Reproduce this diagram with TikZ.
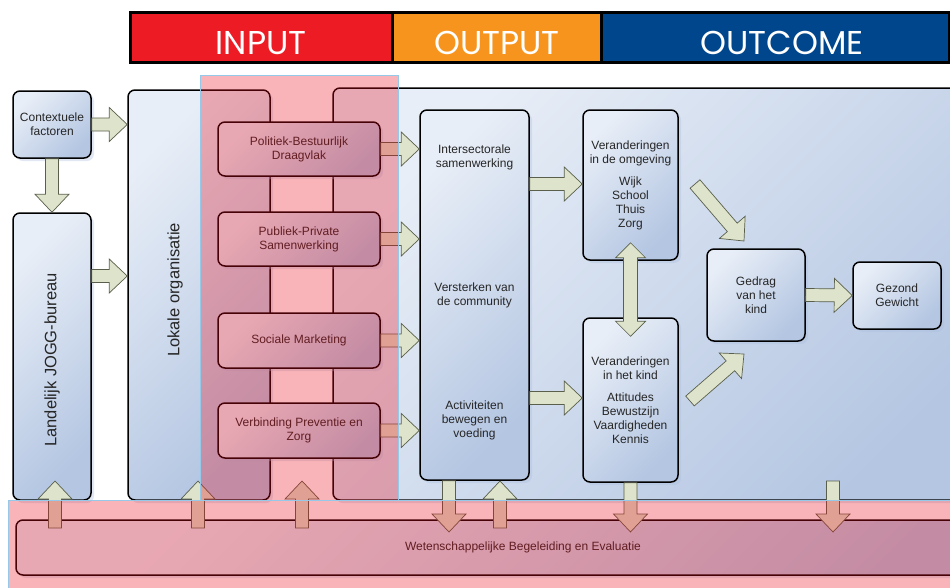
\documentclass[tikz,border=0pt]{standalone}
\usepackage{fontspec}
\setmainfont{Liberation Sans}
\newfontfamily\headfont{Poppins}
\usetikzlibrary{calc,shadows}

\definecolor{inred}{RGB}{237,28,36}
\definecolor{outorange}{RGB}{247,148,29}
\definecolor{outblue}{RGB}{0,70,140}
\definecolor{boxlite}{RGB}{232,238,247}
\definecolor{boxdark}{RGB}{180,198,226}
\definecolor{boxshadow}{RGB}{170,190,222}
\definecolor{arrowfill}{RGB}{222,227,203}
\definecolor{arrowline}{RGB}{90,95,75}
\definecolor{veilred}{RGB}{235,8,22}
\definecolor{veilline}{RGB}{150,200,232}

\newcommand{\fatarrow}[2]{%
  \draw[fatarrow] ($(#1)!6.5pt!90:(#2)$)
    -- ($($(#2)!18pt!(#1)$)!6.5pt!90:(#2)$)
    -- ($($(#2)!18pt!(#1)$)!17pt!90:(#2)$)
    -- (#2)
    -- ($($(#2)!18pt!(#1)$)!17pt!-90:(#2)$)
    -- ($($(#2)!18pt!(#1)$)!6.5pt!-90:(#2)$)
    -- ($(#1)!6.5pt!-90:(#2)$) -- cycle;}
\newcommand{\dblarrow}[2]{%
  \draw[fatarrow] (#1)
    -- ($($(#1)!15pt!(#2)$)!15pt!90:(#2)$)
    -- ($($(#1)!15pt!(#2)$)!7pt!90:(#2)$)
    -- ($($(#2)!15pt!(#1)$)!7pt!90:(#2)$)
    -- ($($(#2)!15pt!(#1)$)!15pt!90:(#2)$)
    -- (#2)
    -- ($($(#2)!15pt!(#1)$)!15pt!-90:(#2)$)
    -- ($($(#2)!15pt!(#1)$)!7pt!-90:(#2)$)
    -- ($($(#1)!15pt!(#2)$)!7pt!-90:(#2)$)
    -- ($($(#1)!15pt!(#2)$)!15pt!-90:(#2)$) -- cycle;}

\begin{document}
\begin{tikzpicture}
[x=1pt, y=-1pt,
 txt/.style={font=\fontsize{12}{14}\selectfont, text=black!85, align=center, inner sep=0pt},
 box/.style={txt, draw=black, line width=1.5pt, rounded corners=7pt,
   top color=boxlite, bottom color=boxdark, shading angle=45,
   drop shadow={shadow xshift=3pt, shadow yshift=-3pt, opacity=.35, fill=boxshadow}},
 bigtxt/.style={txt, rotate=90, font=\fontsize{16.5}{18}\selectfont},
 fatarrow/.style={draw=arrowline, fill=arrowfill, line width=0.7pt, line join=miter},
 redveil/.style={fill=veilred, fill opacity=0.3, draw=veilline, line width=0.6pt},
 headtxt/.style={font=\headfont\fontsize{33}{33}\selectfont, text=white, anchor=base}]
\useasboundingbox (0,0) rectangle (950,587);
\clip (0,0) rectangle (950,587);

\draw[line width=3pt, fill=inred] (130,12) rectangle (392,62);
\draw[line width=3pt, fill=outorange] (392,12) rectangle (601,62);
\draw[line width=3pt, fill=outblue] (601,12) rectangle (949,62);
\node[headtxt] (hin) at (261,54) {INPUT};
\node[headtxt] (hout) at (497,54) {OUTPUT};
\node[headtxt] (hcome) at (782,54) {OUTCOME};

\node[box, minimum width=142pt, minimum height=410pt] (lok) at (199,295) {};
\node[box, minimum width=667pt, minimum height=412pt] (area) at (666.5,294) {};
\node[bigtxt] (loktxt) at (175,290) {Lokale organisatie};

\node[box, minimum width=78pt, minimum height=67pt] (ctx) at (52,124.5) {Contextuele\\factoren};
\node[box, minimum width=78pt, minimum height=287pt] (jogg) at (52,356.5) {};
\node[bigtxt] (joggtxt) at (52,360) {Landelijk JOGG-bureau};

\node[box, minimum width=162pt, minimum height=54pt] (inp1) at (299,149) {Politiek-Bestuurlijk\\Draagvlak};
\node[box, minimum width=162pt, minimum height=54pt] (inp2) at (299,239) {Publiek-Private\\Samenwerking};
\node[box, minimum width=162pt, minimum height=55pt] (inp3) at (299,340.5) {Sociale Marketing};
\node[box, minimum width=162pt, minimum height=55pt] (inp4) at (299,430.5) {Verbinding Preventie en\\Zorg};

\node[box, minimum width=109pt, minimum height=370pt] (mid) at (474.5,295) {};
\node[txt] (mid1) at (474.5,157.5) {Intersectorale\\samenwerking};
\node[txt] (mid2) at (474.5,295) {Versterken van\\de community};
\node[txt] (mid3) at (474.5,420) {Activiteiten\\bewegen en\\voeding};

\node[box, minimum width=95pt, minimum height=150pt] (omg) at (630.5,185) {Veranderingen\\in de omgeving\\[8pt]Wijk\\School\\Thuis\\Zorg};
\node[box, minimum width=95pt, minimum height=164pt] (kind) at (630.5,400) {Veranderingen\\in het kind\\[8pt]Attitudes\\Bewustzijn\\Vaardigheden\\Kennis};
\node[box, minimum width=98pt, minimum height=92pt] (ged) at (756,295) {Gedrag\\van het\\kind};
\node[box, minimum width=88pt, minimum height=67pt] (gez) at (897,295.5) {Gezond\\Gewicht};
\node[box, minimum width=1014pt, minimum height=55pt] (wet) at (523,547.5) {Wetenschappelijke Begeleiding en Evaluatie};

\coordinate (c1) at (lok.west |- ctx.east);
\coordinate (j1) at (jogg.east |- 0,276);
\coordinate (j2) at (lok.west |- 0,276);
\coordinate (e1) at (mid.west |- inp1.east);
\coordinate (e2) at (mid.west |- inp2.east);
\coordinate (e3) at (mid.west |- inp3.east);
\coordinate (e4) at (mid.west |- inp4.east);
\coordinate (m1) at (mid.east |- 0,184);
\coordinate (m2) at (omg.west |- 0,184);
\coordinate (m3) at (mid.east |- 0,398);
\coordinate (m4) at (kind.west |- 0,398);
\coordinate (d1) at ([yshift=18pt]omg.south);
\coordinate (d2) at ([yshift=-19pt]kind.north);
\coordinate (g1) at (695,184);
\coordinate (g2) at (744,241);
\coordinate (g3) at (690,401);
\coordinate (g4) at (744,354);
\coordinate (u1) at (55,528);
\coordinate (v1) at (55,481);
\coordinate (u2) at (198,528);
\coordinate (v2) at (198,481);
\coordinate (u3) at (302,528);
\coordinate (v3) at (302,481);
\coordinate (u4) at (500,528);
\coordinate (v4) at (500,481);
\coordinate (w1) at (mid.south -| 449,0);
\coordinate (w2) at (449,532);
\coordinate (w3) at (630.5,532);
\coordinate (w4) at (833,481);
\coordinate (w5) at (833,532);

\fatarrow{ctx.east}{c1}
\fatarrow{ctx.south}{jogg.north}
\fatarrow{j1}{j2}
\fatarrow{inp1.east}{e1}
\fatarrow{inp2.east}{e2}
\fatarrow{inp3.east}{e3}
\fatarrow{inp4.east}{e4}
\fatarrow{m1}{m2}
\fatarrow{m3}{m4}
\dblarrow{d1}{d2}
\fatarrow{g1}{g2}
\fatarrow{g3}{g4}
\fatarrow{ged.east}{gez.west}
\fatarrow{u1}{v1}
\fatarrow{u2}{v2}
\fatarrow{u3}{v3}
\fatarrow{u4}{v4}
\fatarrow{w1}{w2}
\fatarrow{kind.south}{w3}
\fatarrow{w4}{w5}

\draw[redveil] (200,75) rectangle (398,500);
\draw[redveil] (8,500) rectangle (960,600);
\end{tikzpicture}
\end{document}
